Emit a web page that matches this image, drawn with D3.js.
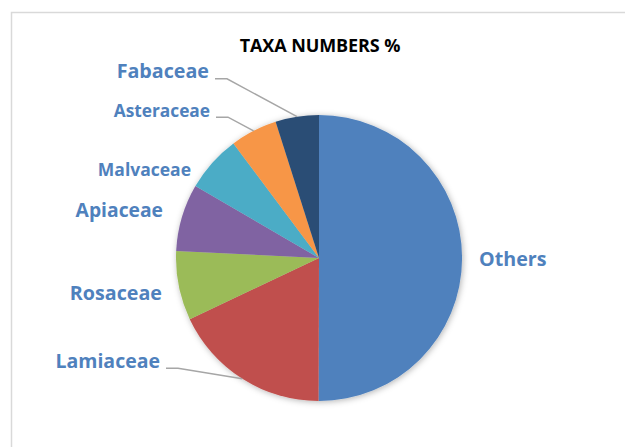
<!DOCTYPE html>
<html>
<head>
<meta charset="utf-8">
<script src="https://cdn.jsdelivr.net/npm/d3@7/dist/d3.min.js"></script>
<style>
  body { margin: 0; background: #fff; }
  svg { display: block; }
</style>
</head>
<body>
<div id="chart"></div>
<script>
var width = 625;
var height = 447;

// taxa share (percent)
var taxa = ["Others", "Lamiaceae", "Rosaceae", "Apiaceae", "Malvaceae", "Asteraceae", "Fabaceae"];
var shares = [50, 17.9, 7.8, 7.6, 6.4, 5.3, 4.9];
var colours = ["#4f81bd", "#c0504d", "#9bbb59", "#8064a2", "#4bacc6", "#f79646", "#2c4d75"];

var cx = 319, cy = 258, r = 143;
var fontFamily = "'Open Sans', Lato, sans-serif";

// label anchors relative to the pie centre (Excel best fit placement)
var labelLayout = {
    "Others":     { x: 160,  y: 7.7,   anchor: "start", size: 19.7, leader: false },
    "Lamiaceae":  { x: -159, y: 109.7, anchor: "end",   size: 19.5, leader: true },
    "Rosaceae":   { x: -157, y: 42,    anchor: "end",   size: 19.7, leader: false },
    "Apiaceae":   { x: -156, y: -40.7, anchor: "end",   size: 19.3, leader: false },
    "Malvaceae":  { x: -128, y: -82,   anchor: "end",   size: 17.5, leader: false },
    "Asteraceae": { x: -109, y: -141.3, anchor: "end",  size: 17.3, leader: true },
    "Fabaceae":   { x: -110, y: -179.7, anchor: "end",  size: 19.7, leader: true }
};

var data = taxa.map((d, i) => ({ name: d, value: shares[i], colour: colours[i] }));

var svg = d3.select("#chart").append("svg")
    .attr("width", width)
    .attr("height", height);

// chart area border, cut off by the window on the right and bottom
svg.append("rect")
    .attr("x", 11.5)
    .attr("y", 12.5)
    .attr("width", width)
    .attr("height", height)
    .attr("fill", "#fff")
    .attr("stroke", "#d9d9d9")
    .attr("stroke-width", 1.5);

var defs = svg.append("defs");
var f = defs.append("filter").attr("id", "shadow")
    .attr("x", "-20%").attr("y", "-20%").attr("width", "140%").attr("height", "140%");
f.append("feDropShadow")
    .attr("dx", 1).attr("dy", 1)
    .attr("stdDeviation", 3)
    .attr("flood-color", "#000")
    .attr("flood-opacity", 0.3);

svg.append("text")
    .attr("x", cx + 1)
    .attr("y", 51.7)
    .attr("text-anchor", "middle")
    .style("font-family", fontFamily)
    .style("font-weight", "bold")
    .style("font-size", "18px")
    .style("letter-spacing", "-0.1px")
    .attr("fill", "#000")
    .text("TAXA NUMBERS %");

var pie = d3.pie().sort(null).value(d => d.value);
var arcs = pie(data);
var arc = d3.arc().innerRadius(0).outerRadius(r);

var g = svg.append("g").attr("transform", "translate(" + cx + "," + cy + ")");

g.append("g")
    .attr("filter", "url(#shadow)")
    .selectAll("path")
    .data(arcs)
    .enter()
    .append("path")
    .attr("d", arc)
    .attr("fill", d => d.data.colour);

// leader lines: short horizontal stub then straight to the slice edge at mid angle
arcs.forEach(d => {
    var L = labelLayout[d.data.name];
    if (!L.leader) return;
    var mid = (d.startAngle + d.endAngle) / 2;
    var ex = r * Math.sin(mid), ey = -r * Math.cos(mid);
    var sx = L.x + 6, sy = L.y + 0.5;
    g.append("polyline")
        .attr("points", [[sx, sy], [sx + 12, sy], [ex, ey]].map(p => p.join(",")).join(" "))
        .attr("fill", "none")
        .attr("stroke", "#a6a6a6")
        .attr("stroke-width", 1.5);
});

g.selectAll("text.lbl")
    .data(arcs)
    .enter()
    .append("text")
    .attr("class", "lbl")
    .attr("x", d => labelLayout[d.data.name].x)
    .attr("y", d => labelLayout[d.data.name].y)
    .attr("text-anchor", d => labelLayout[d.data.name].anchor)
    .style("font-family", fontFamily)
    .style("font-weight", "bold")
    .style("font-size", d => labelLayout[d.data.name].size + "px")
    .attr("fill", "#4f81bd")
    .text(d => d.data.name);
</script>
</body>
</html>
